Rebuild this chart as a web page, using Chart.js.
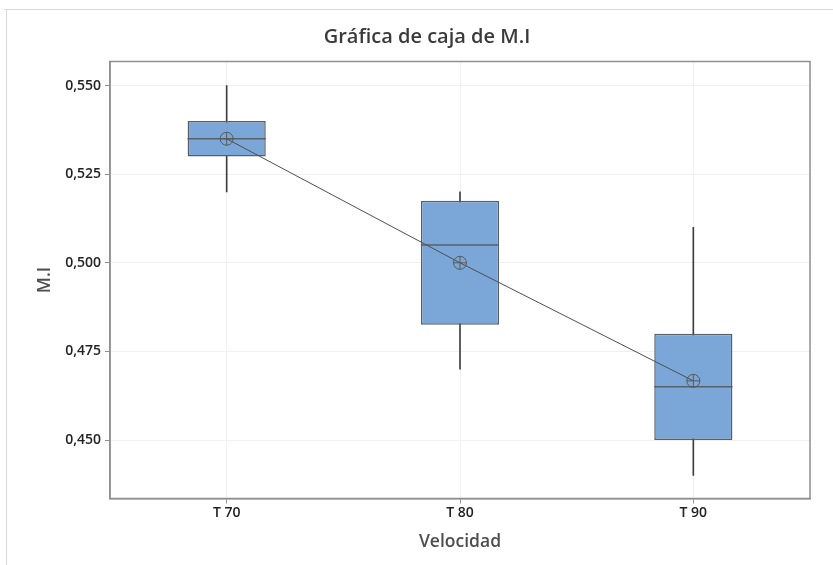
<!DOCTYPE html>
<html>
<head>
<meta charset="utf-8">
<script src="https://cdn.jsdelivr.net/npm/chart.js@4/dist/chart.umd.min.js"></script>
<style>
  html, body { margin: 0; padding: 0; background: #ffffff; }
  canvas { display: block; }
</style>
</head>
<body>
<canvas id="chart" width="833" height="565"></canvas>
<script>
// Box-plot summary for M.I at each speed level
const categories = ['T 70', 'T 80', 'T 90'];
const whiskerMin = [0.520, 0.470, 0.440];
const q1 = [0.530, 0.4825, 0.450];
const median = [0.535, 0.505, 0.465];
const q3 = [0.540, 0.5175, 0.480];
const whiskerMax = [0.550, 0.520, 0.510];
const means = [0.535, 0.500, 0.4667];
const yTicks = [0.450, 0.475, 0.500, 0.525, 0.550];

const whiskerData = categories.map((_, i) => [whiskerMin[i], whiskerMax[i]]);
const boxData = categories.map((_, i) => [q1[i], q3[i]]);

// Light outer frame and white background
const framePlugin = {
  id: 'frame',
  beforeDraw(chart) {
    const ctx = chart.ctx;
    ctx.save();
    ctx.fillStyle = '#ffffff';
    ctx.fillRect(0, 0, chart.width, chart.height);
    ctx.strokeStyle = '#d9d9d9';
    ctx.lineWidth = 1;
    ctx.beginPath();
    ctx.moveTo(4, 9.5);
    ctx.lineTo(chart.width, 9.5);
    ctx.moveTo(6.5, 9);
    ctx.lineTo(6.5, chart.height);
    ctx.stroke();
    ctx.restore();
  },
  afterDraw(chart) {
    const a = chart.chartArea;
    const ctx = chart.ctx;
    ctx.save();
    ctx.strokeStyle = '#8f8f8f';
    ctx.lineWidth = 1.5;
    ctx.strokeRect(a.left, a.top, a.right - a.left, a.bottom - a.top);
    ctx.restore();
  }
};

// Median line across each box
const medianPlugin = {
  id: 'medianLines',
  afterDatasetDraw(chart, args) {
    if (args.index !== 1) return;
    const meta = chart.getDatasetMeta(1);
    const yScale = chart.scales.y;
    const ctx = chart.ctx;
    ctx.save();
    ctx.strokeStyle = '#585f68';
    ctx.lineWidth = 1.5;
    meta.data.forEach((bar, i) => {
      const y = yScale.getPixelForValue(median[i]);
      ctx.beginPath();
      ctx.moveTo(bar.x - bar.width / 2, y);
      ctx.lineTo(bar.x + bar.width / 2, y);
      ctx.stroke();
    });
    ctx.restore();
  }
};

const tickFont = { family: "'Open Sans', sans-serif", size: 14, weight: '600' };
const axisTitleFont = { family: "'Open Sans', sans-serif", size: 17.5, weight: '600' };

new Chart(document.getElementById('chart'), {
  type: 'bar',
  data: {
    labels: categories,
    datasets: [
      {
        label: 'Bigotes',
        data: whiskerData,
        backgroundColor: '#3f3f3f',
        borderWidth: 0,
        barThickness: 1,
        grouped: false,
        order: 3
      },
      {
        label: 'Caja',
        data: boxData,
        backgroundColor: '#7ba6d8',
        borderColor: '#585f68',
        borderWidth: 1.5,
        borderSkipped: false,
        barPercentage: 0.335,
        categoryPercentage: 1,
        grouped: false,
        order: 2
      },
      {
        type: 'line',
        label: 'Media',
        data: means,
        borderColor: '#4f4f4f',
        borderWidth: 1,
        pointStyle: 'circle',
        pointRadius: 6.5,
        pointBorderColor: '#5a5a5a',
        pointBackgroundColor: 'rgba(0,0,0,0)',
        pointBorderWidth: 1,
        order: 1
      },
      {
        type: 'line',
        label: 'Media (cruz)',
        data: means,
        showLine: false,
        pointStyle: 'cross',
        pointRadius: 6.5,
        pointBorderColor: '#5a5a5a',
        pointBorderWidth: 1,
        order: 0
      }
    ]
  },
  options: {
    responsive: false,
    devicePixelRatio: 1,
    animation: false,
    layout: { padding: { left: 44, right: 23, top: 0, bottom: 0 } },
    plugins: {
      legend: { display: false },
      tooltip: { enabled: false },
      title: {
        display: true,
        text: 'Gráfica de caja de M.I',
        color: '#3a3a3a',
        font: { family: "'Open Sans', sans-serif", size: 20, weight: '600' },
        padding: { top: 25.5, bottom: 12 }
      }
    },
    scales: {
      x: {
        offset: true,
        grid: {
          offset: false,
          color: '#f0f0f0',
          tickColor: '#8f8f8f',
          tickLength: 5,
          lineWidth: 1
        },
        border: { display: true, color: '#8f8f8f', width: 1.5 },
        ticks: { color: '#222222', font: tickFont, padding: 1 },
        title: {
          display: true,
          text: 'Velocidad',
          color: '#4d4d4d',
          font: axisTitleFont,
          padding: { top: 12, bottom: 12 }
        },
        afterFit(scale) { scale.height = 66.5; }
      },
      y: {
        min: 0.4335,
        max: 0.5568,
        grid: {
          color: '#f0f0f0',
          tickColor: '#8f8f8f',
          tickLength: 5,
          lineWidth: 1
        },
        border: { display: true, color: '#8f8f8f', width: 1.5 },
        ticks: {
          color: '#222222',
          font: tickFont,
          padding: 4,
          callback: (v) => v.toFixed(3).replace('.', ',')
        },
        afterBuildTicks(scale) {
          scale.ticks = yTicks.map(v => ({ value: v }));
        },
        title: {
          display: true,
          text: 'M.I',
          color: '#4d4d4d',
          font: axisTitleFont,
          padding: { top: -9, bottom: -9 }
        },
        afterFit(scale) { scale.width = 66; }
      }
    }
  },
  plugins: [framePlugin, medianPlugin]
});
</script>
</body>
</html>
